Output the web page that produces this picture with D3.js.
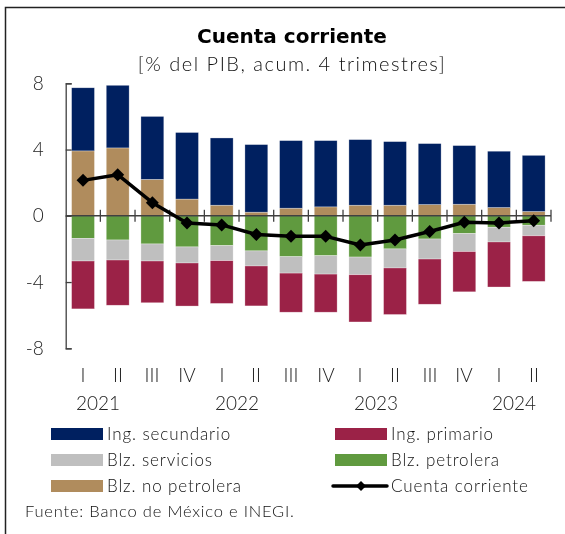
<html>
<head>
<meta charset="utf-8">
<script src="https://d3js.org/d3.v7.min.js"></script>
<style>
  body { margin: 0; background: #fff; }
  svg { display: block; font-family: Lato, 'Open Sans', sans-serif; will-change: transform; }
</style>
</head>
<body>
<svg id="chart" width="565" height="534"></svg>
<script>
// quarters 2021 I .. 2024 II
var quarters = ["I","II","III","IV","I","II","III","IV","I","II","III","IV","I","II"];
var years = ["2021","2022","2023","2024"];
var yTicks = [-8, -4, 0, 4, 8];

var noPetrolera = [3.92, 4.10, 2.20, 1.01, 0.64, 0.22, 0.46, 0.54, 0.64, 0.64, 0.68, 0.70, 0.50, 0.26];
var secundario  = [3.81, 3.78, 3.80, 4.02, 4.06, 4.08, 4.08, 4.00, 3.96, 3.84, 3.68, 3.54, 3.40, 3.39];
var petrolera   = [-1.36, -1.46, -1.70, -1.88, -1.80, -2.12, -2.47, -2.41, -2.49, -2.00, -1.40, -1.07, -0.69, -0.57];
var servicios   = [-1.37, -1.21, -1.03, -0.97, -0.91, -0.91, -0.99, -1.11, -1.07, -1.15, -1.21, -1.09, -0.89, -0.64];
var primario    = [-2.89, -2.73, -2.52, -2.60, -2.58, -2.41, -2.36, -2.30, -2.85, -2.81, -2.73, -2.43, -2.72, -2.75];
var cuenta      = [2.14, 2.48, 0.79, -0.43, -0.55, -1.13, -1.23, -1.24, -1.76, -1.46, -0.95, -0.39, -0.43, -0.30];

var keys = ["noPetrolera", "secundario", "petrolera", "servicios", "primario"];
var colors = {
    noPetrolera: "#b08c5d",
    secundario: "#002060",
    petrolera: "#609a3f",
    servicios: "#bfbfbf",
    primario: "#9b2247"
};
var legendItems = [
    {key: "secundario", label: "Ing. secundario"},
    {key: "primario", label: "Ing. primario"},
    {key: "servicios", label: "Blz. servicios"},
    {key: "petrolera", label: "Blz. petrolera"},
    {key: "noPetrolera", label: "Blz. no petrolera"},
    {key: "cuenta", label: "Cuenta corriente"}
];

var rows = quarters.map(function (q, i) {
    return {i: i, noPetrolera: noPetrolera[i], secundario: secundario[i],
            petrolera: petrolera[i], servicios: servicios[i], primario: primario[i]};
});

var svg = d3.select("#chart");
var plotLeft = 65.7, plotRight = 551, plotTop = 83.3, plotBottom = 348.3;

var x = d3.scaleBand().domain(d3.range(quarters.length)).range([plotLeft, plotRight])
    .paddingInner(0.34).paddingOuter(0.17);
var y = d3.scaleLinear().domain([-8, 8]).range([plotBottom, plotTop]);
var xb = d3.scaleLinear().domain([0, quarters.length]).range([plotLeft, plotRight]);

// frame (top and left only)
svg.append("path").attr("d", "M5.5,534V7.5H565")
    .attr("fill", "none").attr("stroke", "#222").attr("stroke-width", 1.5);

// titles
svg.append("text").attr("x", 292).attr("y", 43).attr("text-anchor", "middle")
    .attr("font-family", "'DejaVu Sans', sans-serif")
    .attr("font-size", 20).attr("font-weight", 700).attr("fill", "#000")
    .text("Cuenta corriente");
svg.append("text").attr("x", 292).attr("y", 71).attr("text-anchor", "middle")
    .attr("font-size", 20).attr("font-weight", 300).attr("letter-spacing", 1.5).attr("fill", "#111")
    .text("[% del PIB, acum. 4 trimestres]");

// bars
var series = d3.stack().keys(keys).offset(d3.stackOffsetDiverging)(rows);
svg.append("g").selectAll("g").data(series).enter().append("g")
    .attr("fill", function (s) { return colors[s.key]; })
    .selectAll("rect").data(function (s) { return s; }).enter().append("rect")
    .attr("x", function (d) { return x(d.data.i); })
    .attr("width", x.bandwidth())
    .attr("y", function (d) { return y(Math.max(d[0], d[1])); })
    .attr("height", function (d) { return Math.abs(y(d[0]) - y(d[1])); })
    .attr("stroke", "#fff").attr("stroke-width", 0.6).attr("stroke-opacity", 0.5);

// y axis
var yAxis = svg.append("g").attr("transform", "translate(" + plotLeft + ",0)")
    .call(d3.axisLeft(y).tickValues(yTicks).tickFormat(function (d) { return String(d); })
        .tickSizeInner(-6).tickSizeOuter(-6).tickPadding(22));
yAxis.selectAll("path, line").attr("stroke", "#404040").attr("stroke-width", 1.3);
yAxis.selectAll("text").attr("font-size", 19).attr("font-family", "Lato").attr("font-weight", 300)
    .attr("fill", "#222");

// x axis at zero
var xAxis = svg.append("g").attr("transform", "translate(0," + y(0) + ")");
xAxis.append("line").attr("x1", plotLeft).attr("x2", plotRight)
    .attr("stroke", "#404040").attr("stroke-width", 1.5);
xAxis.selectAll("line.tick").data(d3.range(1, quarters.length + 1)).enter().append("line")
    .attr("class", "tick")
    .attr("x1", function (d) { return xb(d); }).attr("x2", function (d) { return xb(d); })
    .attr("y1", -6).attr("y2", 6)
    .attr("stroke", "#404040").attr("stroke-width", 1.3);

// quarter and year labels
svg.append("g").selectAll("text").data(quarters).enter().append("text")
    .attr("x", function (d, i) { return Math.round(x(i) + x.bandwidth() / 2); })
    .attr("y", 382).attr("text-anchor", "middle")
    .attr("font-size", 19).attr("font-weight", 300).attr("fill", "#222")
    .text(function (d) { return d; });
svg.append("g").selectAll("text").data(years).enter().append("text")
    .attr("x", function (d, k) { return Math.round(xb(k * 4 + 1) - 2); })
    .attr("y", 410).attr("text-anchor", "middle")
    .attr("font-size", 19).attr("font-weight", 300).attr("fill", "#222")
    .text(function (d) { return d; });

// current account line
var line = d3.line()
    .x(function (d, i) { return x(i) + x.bandwidth() / 2; })
    .y(function (d) { return y(d); });
svg.append("path").datum(cuenta).attr("d", line)
    .attr("fill", "none").attr("stroke", "#000").attr("stroke-width", 3.5)
    .attr("stroke-linejoin", "round");
svg.append("g").selectAll("path").data(cuenta).enter().append("path")
    .attr("d", d3.symbol(d3.symbolSquare, 84))
    .attr("transform", function (d, i) {
        return "translate(" + (x(i) + x.bandwidth() / 2) + "," + y(d) + ") rotate(45)";
    })
    .attr("fill", "#000");

// legend
var legend = svg.append("g").selectAll("g").data(legendItems).enter().append("g")
    .attr("transform", function (d, i) {
        return "translate(" + (i % 2 === 0 ? 51 : 335) + "," + (434 + Math.floor(i / 2) * 26) + ")";
    });
legend.filter(function (d) { return d.key !== "cuenta"; }).append("rect")
    .attr("x", 0).attr("y", -6).attr("width", 52).attr("height", 12)
    .attr("fill", function (d) { return colors[d.key]; });
var lg = legend.filter(function (d) { return d.key === "cuenta"; });
lg.append("line").attr("x1", -2).attr("x2", 52).attr("y1", 0).attr("y2", 0)
    .attr("stroke", "#000").attr("stroke-width", 3.5).attr("stroke-linecap", "round");
lg.append("path").attr("d", d3.symbol(d3.symbolSquare, 50))
    .attr("transform", "translate(26,0) rotate(45)").attr("fill", "#000");
legend.append("text").attr("x", 56).attr("y", 6)
    .attr("font-size", 17).attr("font-weight", 300).attr("letter-spacing", 0.9).attr("fill", "#111")
    .text(function (d) { return d.label; });

// source
svg.append("text").attr("x", 25).attr("y", 517)
    .attr("font-size", 16.5).attr("font-weight", 300).attr("letter-spacing", 0.8).attr("fill", "#111")
    .text("Fuente: Banco de México e INEGI.");
</script>
</body>
</html>
